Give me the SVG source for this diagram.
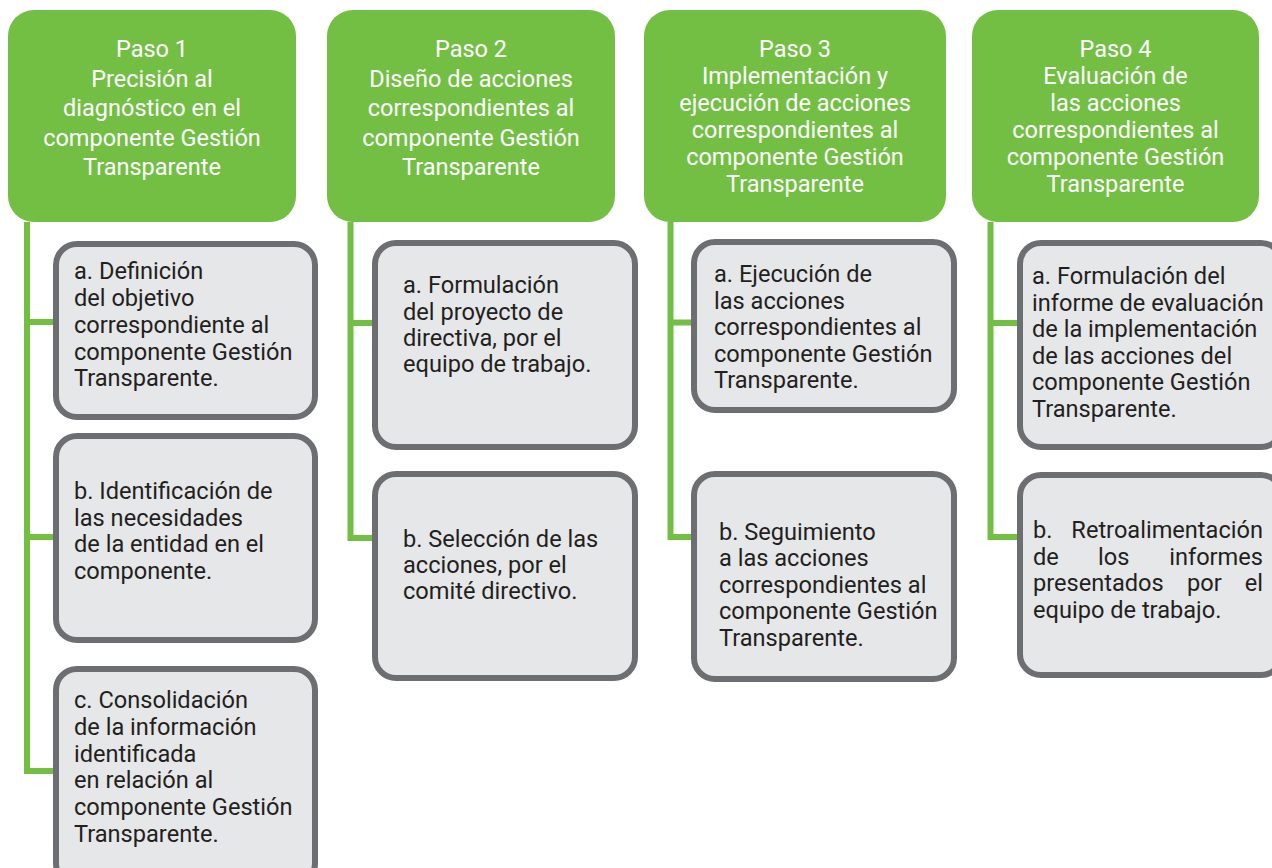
<svg xmlns="http://www.w3.org/2000/svg" width="1272" height="868" viewBox="0 0 1272 868">
<style>
.hdr{fill:#72bf44;}
.box{fill:#e6e7e8;stroke:#6d6e71;stroke-width:6;}
.conn{fill:none;stroke:#72bf44;stroke-width:6;stroke-linejoin:miter;}
.ht{font-family:Roboto,"Liberation Sans",sans-serif;font-size:23.5px;fill:#ffffff;text-anchor:middle;}
.bt{font-family:Roboto,"Liberation Sans",sans-serif;font-size:23.6px;fill:#231f20;}
.end{text-anchor:end;}
</style>
<rect width="1272" height="868" fill="#ffffff"/>
<g id="connectors">
<path class="conn" d="M27,222 V771 H56 M27,322 H56 M27,537 H56"/>
<path class="conn" d="M350.5,222 V538 H375 M350.5,323 H375"/>
<path class="conn" d="M670.5,222 V537 H694 M670.5,322.5 H694"/>
<path class="conn" d="M990.5,222 V537 H1020 M990.5,323 H1020"/>
</g>
<g id="paso1">
<rect class="hdr" x="8" y="10" width="288" height="212" rx="26"/>
<text class="ht" x="152" y="57">Paso 1</text>
<text class="ht" x="152" y="86.5">Precisión al</text>
<text class="ht" x="152" y="116">diagnóstico en el</text>
<text class="ht" x="152" y="145.5">componente Gestión</text>
<text class="ht" x="152" y="175">Transparente</text>
</g>
<g id="paso2">
<rect class="hdr" x="327" y="10" width="288" height="212" rx="26"/>
<text class="ht" x="471" y="57">Paso 2</text>
<text class="ht" x="471" y="86.5">Diseño de acciones</text>
<text class="ht" x="471" y="116">correspondientes al</text>
<text class="ht" x="471" y="145.5">componente Gestión</text>
<text class="ht" x="471" y="175">Transparente</text>
</g>
<g id="paso3">
<rect class="hdr" x="644" y="10" width="302" height="212" rx="26"/>
<text class="ht" x="795" y="57">Paso 3</text>
<text class="ht" x="795" y="84">Implementación y</text>
<text class="ht" x="795" y="111">ejecución de acciones</text>
<text class="ht" x="795" y="138">correspondientes al</text>
<text class="ht" x="795" y="165">componente Gestión</text>
<text class="ht" x="795" y="192">Transparente</text>
</g>
<g id="paso4">
<rect class="hdr" x="972" y="10" width="287" height="212" rx="26"/>
<text class="ht" x="1115.5" y="57">Paso 4</text>
<text class="ht" x="1115.5" y="84">Evaluación de</text>
<text class="ht" x="1115.5" y="111">las acciones</text>
<text class="ht" x="1115.5" y="138">correspondientes al</text>
<text class="ht" x="1115.5" y="165">componente Gestión</text>
<text class="ht" x="1115.5" y="192">Transparente</text>
</g>
<g id="p1a">
<rect class="box" x="56" y="244" width="259" height="173" rx="21"/>
<text class="bt" x="74" y="279">a. Definición</text>
<text class="bt" x="74" y="306">del objetivo</text>
<text class="bt" x="74" y="333">correspondiente al</text>
<text class="bt" x="74" y="359.5">componente Gestión</text>
<text class="bt" x="74" y="386">Transparente.</text>
</g>
<g id="p1b">
<rect class="box" x="56" y="436" width="259" height="204" rx="21"/>
<text class="bt" x="74" y="499">b. Identificación de</text>
<text class="bt" x="74" y="525.5">las necesidades</text>
<text class="bt" x="74" y="552">de la entidad en el</text>
<text class="bt" x="74" y="578.5">componente.</text>
</g>
<g id="p1c">
<rect class="box" x="56" y="669" width="259" height="215" rx="21"/>
<text class="bt" x="74" y="708">c. Consolidación</text>
<text class="bt" x="74" y="735">de la información</text>
<text class="bt" x="74" y="761.5">identificada</text>
<text class="bt" x="74" y="788">en relación al</text>
<text class="bt" x="74" y="815">componente Gestión</text>
<text class="bt" x="74" y="842">Transparente.</text>
</g>
<g id="p2a">
<rect class="box" x="375" y="243" width="260" height="204" rx="21"/>
<text class="bt" x="403" y="293">a. Formulación</text>
<text class="bt" x="403" y="319.5">del proyecto de</text>
<text class="bt" x="403" y="345.5">directiva, por el</text>
<text class="bt" x="403" y="372">equipo de trabajo.</text>
</g>
<g id="p2b">
<rect class="box" x="375" y="474" width="260" height="204" rx="21"/>
<text class="bt" x="403" y="547">b. Selección de las</text>
<text class="bt" x="403" y="573">acciones, por el</text>
<text class="bt" x="403" y="599">comité directivo.</text>
</g>
<g id="p3a">
<rect class="box" x="694" y="242" width="260" height="168" rx="21"/>
<text class="bt" x="714" y="282">a. Ejecución de</text>
<text class="bt" x="714" y="308.5">las acciones</text>
<text class="bt" x="714" y="335">correspondientes al</text>
<text class="bt" x="714" y="361.5">componente Gestión</text>
<text class="bt" x="714" y="388">Transparente.</text>
</g>
<g id="p3b">
<rect class="box" x="694" y="474" width="260" height="205" rx="21"/>
<text class="bt" x="719" y="539.5">b. Seguimiento</text>
<text class="bt" x="719" y="566">a las acciones</text>
<text class="bt" x="719" y="592.5">correspondientes al</text>
<text class="bt" x="719" y="619">componente Gestión</text>
<text class="bt" x="719" y="645.5">Transparente.</text>
</g>
<g id="p4a">
<rect class="box" x="1020" y="243" width="262" height="204" rx="21"/>
<text class="bt" x="1032" y="284">a. Formulación del</text>
<text class="bt" x="1032" y="310.5">informe de evaluación</text>
<text class="bt" x="1032" y="337">de la implementación</text>
<text class="bt" x="1032" y="363.5">de las acciones del</text>
<text class="bt" x="1032" y="390">componente Gestión</text>
<text class="bt" x="1032" y="416.5">Transparente.</text>
</g>
<g id="p4b">
<rect class="box" x="1020" y="475" width="262" height="200" rx="21"/>
<text class="bt" x="1033" y="538">b.</text>
<text class="bt end" x="1263" y="538">Retroalimentación</text>
<text class="bt" x="1033" y="564.5">de</text>
<text class="bt" x="1098" y="564.5">los</text>
<text class="bt end" x="1263" y="564.5">informes</text>
<text class="bt" x="1033" y="591">presentados</text>
<text class="bt" x="1187" y="591">por</text>
<text class="bt end" x="1263" y="591">el</text>
<text class="bt" x="1033" y="617.5">equipo de trabajo.</text>
</g>
</svg>
